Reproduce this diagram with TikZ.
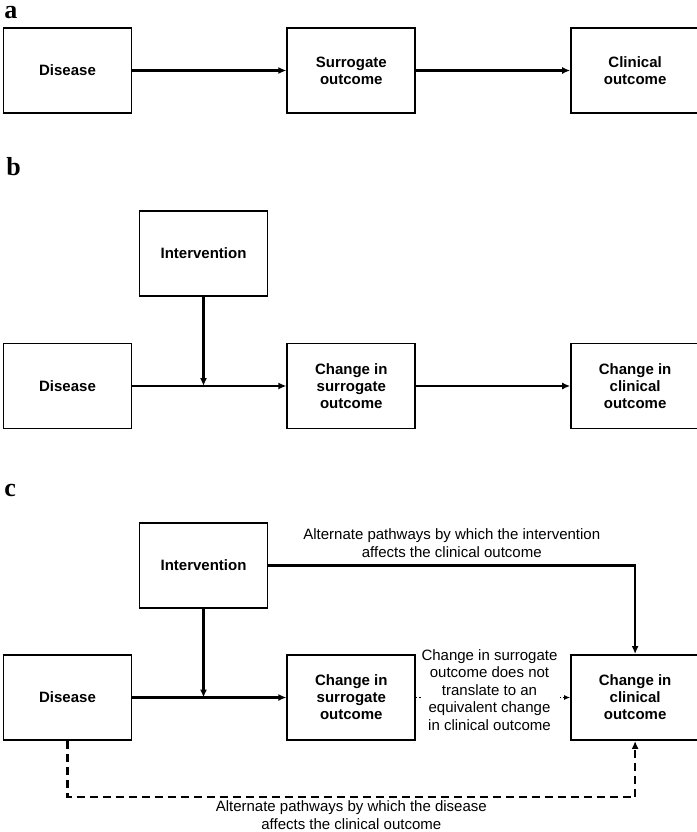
\documentclass[tikz,border=0pt]{standalone}
\usepackage{fontspec}
\setmainfont{Liberation Sans}
\newfontfamily\panelfont{Liberation Serif}
\usepackage{tikz}
\usetikzlibrary{arrows.meta,positioning}

\begin{document}
\begin{tikzpicture}[x=1pt,y=-1pt,node distance=154pt,semithick]
\tikzstyle{every box}=[draw,line width=1.8pt,minimum width=128pt,minimum height=85pt,
  align=center,font=\fontsize{15}{17}\selectfont\bfseries,inner sep=2pt]
\tikzstyle{panel}=[anchor=base west,inner sep=0pt,font=\fontsize{26}{28}\selectfont\panelfont\bfseries]
\tikzstyle{lbl}=[align=center,font=\fontsize{15}{17.5}\selectfont,inner sep=1pt]
\tikzstyle{link}=[line width=2.4pt,-{Latex[length=8pt,width=7pt]}]
\useasboundingbox (0,0) rectangle (696,832);

% a
\node[panel] (pa) at (4,19) {a};
\node[every box] (disa) at (67.5,70.5) {Disease};
\node[every box] (sura) [right=of disa] {Surrogate\\outcome};
\node[every box] (clia) [right=of sura] {Clinical\\outcome};

\draw[link] (disa) -- (sura);
\draw[link] (sura) -- (clia);

% b
\node[panel] (pb) at (6,175) {b};
\node[every box] (intb) at (203.5,253.5) {Intervention};
\node[every box] (disb) at (67.5,386) {Disease};
\node[every box] (surb) [right=of disb] {Change in\\surrogate\\outcome};
\node[every box] (clib) [right=of surb] {Change in\\clinical\\outcome};

\draw[link] (disb) -- (surb);
\draw[link] (surb) -- (clib);
\draw[link] (intb.south) -- (intb.south |- disb.east);

% c
\node[panel] (pc) at (4,496) {c};
\node[every box] (intc) at (203.5,565.5) {Intervention};
\node[every box] (disc) at (67.5,697.5) {Disease};
\node[every box] (surc) [right=of disc] {Change in\\surrogate\\outcome};
\node[every box] (clic) [right=of surc] {Change in\\clinical\\outcome};

\draw[link] (disc) -- (surc);
\draw[link] (intc.south) -- (intc.south |- disc.east);
\draw[link] (intc.east) -| node[lbl,pos=0.25,above=6pt] (lintc) {Alternate pathways by which the intervention\\affects the clinical outcome} (clic.north);
\draw[line width=1.2pt,dotted,-{Latex[length=6pt,width=5pt]}] (surc) -- (clic);
\node[lbl,fill=white] (lsurc) at (489.5,690) {Change in surrogate\\outcome does not\\translate to an\\equivalent change\\in clinical outcome};
\draw[link,dash pattern=on 8pt off 5pt] (disc.south) -- ++(0,56) -| node[lbl,pos=0.25,below=2pt] (ldisc) {Alternate pathways by which the disease\\affects the clinical outcome} (clic.south);

\end{tikzpicture}
\end{document}
